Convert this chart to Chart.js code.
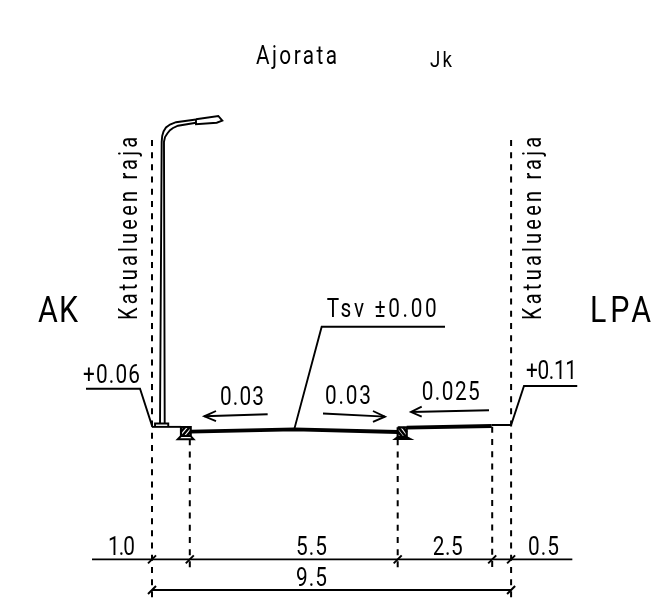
<!DOCTYPE html>
<html>
<head>
<meta charset="utf-8">
<style>
    html, body { margin: 0; padding: 0; background: #fff; }
    canvas { display: block; }
</style>
<script src="https://cdn.jsdelivr.net/npm/chart.js@4"></script>
</head>
<body>
<canvas id="grafico" width="666" height="606"></canvas>
<script>
// all values in metres, x from the left street boundary, y from ground level
var boundaryStations = [0, 9.5];
var dimensionStations = [0, 1, 6.5, 9, 9.5];

var leaderLeft = [[-1.746, 1.04], [-0.317, 1.04], [0.01, 0.03]];
var groundLeft = [[0, 0.03], [0.767, 0.03]];
var groundRight = [[8.987, 0.08], [9.5, 0.08], [9.841, 1.111], [11.25, 1.111]];
var crownLeader = [[3.77, -0.01], [4.489, 2.68], [7.751, 2.68]];
var roadSurface = [[1.024, -0.098], [3.77, -0.034], [6.5, -0.106]];
var pathSurface = [[6.738, 0.008], [8.987, 0.053]];

var lampBase = [[0.08, 0.03], [0.08, 0.12], [0.43, 0.12], [0.43, 0.03]];
var poleOuter = [[0.212, 0.12], [0.256, 7.574], [0.27, 7.725], [0.305, 7.844], [0.37, 7.95], [0.476, 8.029], [0.635, 8.09], [1.164, 8.161]];
var poleInner = [[0.336, 0.12], [0.317, 7.574], [0.345, 7.698], [0.405, 7.791], [0.476, 7.878], [0.556, 7.937], [0.688, 7.997], [1.164, 8.074]];
var lampHead = [[1.164, 8.167], [1.754, 8.254], [1.86, 8.13], [1.712, 8.077], [1.164, 8.034], [1.164, 8.167]];

var curbLeft = [[0.767, 0.026], [1.024, 0.026], [1.024, -0.212], [0.767, -0.212], [0.767, 0.026]];
var curbLeftBase = [[0.767, -0.212], [0.68, -0.299], [1.103, -0.299], [1.024, -0.212]];
var curbLeftHatch = [
    [[0.767, -0.1], [0.88, 0.026]],
    [[0.8, -0.212], [1.0, 0.026]],
    [[0.92, -0.212], [1.024, -0.09]]
];
var curbRight = [[6.5, 0.019], [6.738, 0.019], [6.738, -0.238], [6.5, -0.238], [6.5, 0.019]];
var curbRightBase = [[6.5, -0.238], [6.429, -0.291], [6.84, -0.291], [6.738, -0.238]];
var curbRightHatch = [
    [[6.5, -0.09], [6.62, -0.238]],
    [[6.52, 0.019], [6.72, -0.238]],
    [[6.64, 0.019], [6.738, -0.11]]
];

var arrowLeft = [[[3.06, 0.362], [1.384, 0.31]], [[1.693, 0.45], [1.384, 0.31], [1.693, 0.185]]];
var arrowMiddle = [[[4.524, 0.384], [6.164, 0.3]], [[5.846, 0.45], [6.164, 0.3], [5.846, 0.159]]];
var arrowRight = [[[8.915, 0.468], [6.852, 0.423]], [[7.135, 0.563], [6.852, 0.423], [7.135, 0.299]]];

var dashBoundaryTop = 7.62;
var dashBottom = -4.55;
var dashInnerTop = [-0.3, -0.3, 0.03];
var dashInnerStations = [1, 6.5, 9];
var dashInnerBottom = -3.757;

var dimLine1 = [[-1.587, -3.476], [11.12, -3.476]];
var dimLine2 = [[0, -4.286], [9.5, -4.286]];
var tickHalf = 0.106;

var labelTexts = ['Ajorata', 'Jk', 'AK', 'LPA', 'Katualueen raja', 'Katualueen raja', '+0.06', '+0.11', '0.03', '0.03', '0.025', 'Tsv ±0.00', '1.0', '5.5', '2.5', '0.5', '9.5'];
var labelX = [2.751, 7.355, -3.016, 11.587, -0.397, 10.29, -1.825, 9.894, 1.799, 4.577, 7.135, 4.622, -1.164, 3.81, 7.426, 9.947, 3.81];
var labelY = [9.617, 9.558, 2.804, 2.804, 2.857, 2.857, 1.19, 1.288, 0.608, 0.635, 0.741, 2.937, -3.36, -3.36, -3.36, -3.36, -4.18];
var labelSize = [26, 22, 37, 37, 25, 25, 26, 26, 26, 26, 26, 26, 26, 26, 26, 26, 26];
var labelWidth = [81, 22, 40, 61, 183, 183, 57, 51, 44, 46, 58, 110, 27, 31, 30, 31, 31];
var labelSqueeze = [0.8, 0.85, 0.82, 0.82, 0.8, 0.8, 0.8, 0.8, 0.8, 0.8, 0.8, 0.8, 0.8, 0.8, 0.8, 0.8, 0.8];
var labelRotated = [false, false, false, false, true, true, false, false, false, false, false, false, false, false, false, false, false];

var datasets = [];

function addLine(points, width, dash) {
    datasets.push({
        data: points.map(function (p) { return { x: p[0], y: p[1] }; }),
        showLine: true,
        borderColor: '#000',
        borderWidth: width,
        borderDash: dash || [],
        pointRadius: 0,
        tension: 0,
        fill: false
    });
}

[leaderLeft, groundLeft, groundRight, crownLeader, lampBase, poleOuter, poleInner, lampHead,
    curbLeftBase, curbRightBase, dimLine1, dimLine2].forEach(function (l) {
    addLine(l, 1.9);
});
addLine(curbLeft, 2.2);
addLine(curbRight, 2.2);
curbLeftHatch.concat(curbRightHatch).forEach(function (l) { addLine(l, 2.5); });
arrowLeft.concat(arrowMiddle, arrowRight).forEach(function (l) { addLine(l, 1.9); });
addLine(roadSurface, 3.8);
addLine(pathSurface, 3.8);

boundaryStations.forEach(function (s) {
    addLine([[s, dashBoundaryTop], [s, dashBottom]], 2, [6, 6.2]);
});
dashInnerStations.forEach(function (s, i) {
    addLine([[s, dashInnerTop[i]], [s, dashInnerBottom]], 2, [6, 6.2]);
});

dimensionStations.forEach(function (s) {
    addLine([[s - tickHalf, dimLine1[0][1] - tickHalf], [s + tickHalf, dimLine1[0][1] + tickHalf]], 2);
});
boundaryStations.forEach(function (s) {
    addLine([[s - tickHalf, dimLine2[0][1] - tickHalf], [s + tickHalf, dimLine2[0][1] + tickHalf]], 2);
});

// text goes on the canvas through the same scales as the lines
var labelPlugin = {
    id: 'labelPlugin',
    afterDatasetsDraw: function (chart) {
        var ctx = chart.ctx;
        var sx = chart.scales.x;
        var sy = chart.scales.y;
        labelTexts.forEach(function (text, i) {
            ctx.save();
            ctx.fillStyle = '#000';
            ctx.textAlign = 'left';
            ctx.textBaseline = 'alphabetic';
            ctx.font = '400 ' + labelSize[i] + 'px Roboto, "DejaVu Sans", sans-serif';
            ctx.letterSpacing = '0px';
            var gap = (labelWidth[i] / labelSqueeze[i] - ctx.measureText(text).width) / Math.max(text.length - 1, 1);
            ctx.letterSpacing = gap.toFixed(2) + 'px';
            ctx.translate(sx.getPixelForValue(labelX[i]), sy.getPixelForValue(labelY[i]));
            if (labelRotated[i]) {
                ctx.rotate(-Math.PI / 2);
            }
            ctx.scale(labelSqueeze[i], 1);
            ctx.fillText(text, 0, 0);
            ctx.restore();
        });
    }
};

new Chart(document.getElementById('grafico'), {
    type: 'scatter',
    data: { datasets: datasets },
    options: {
        responsive: false,
        animation: false,
        layout: { padding: 0 },
        plugins: { legend: { display: false }, tooltip: { enabled: false } },
        scales: {
            x: { type: 'linear', display: false, min: -4.0212, max: 13.598 },
            y: { type: 'linear', display: false, min: -4.709, max: 11.3228 }
        }
    },
    plugins: [labelPlugin]
});
</script>
</body>
</html>
